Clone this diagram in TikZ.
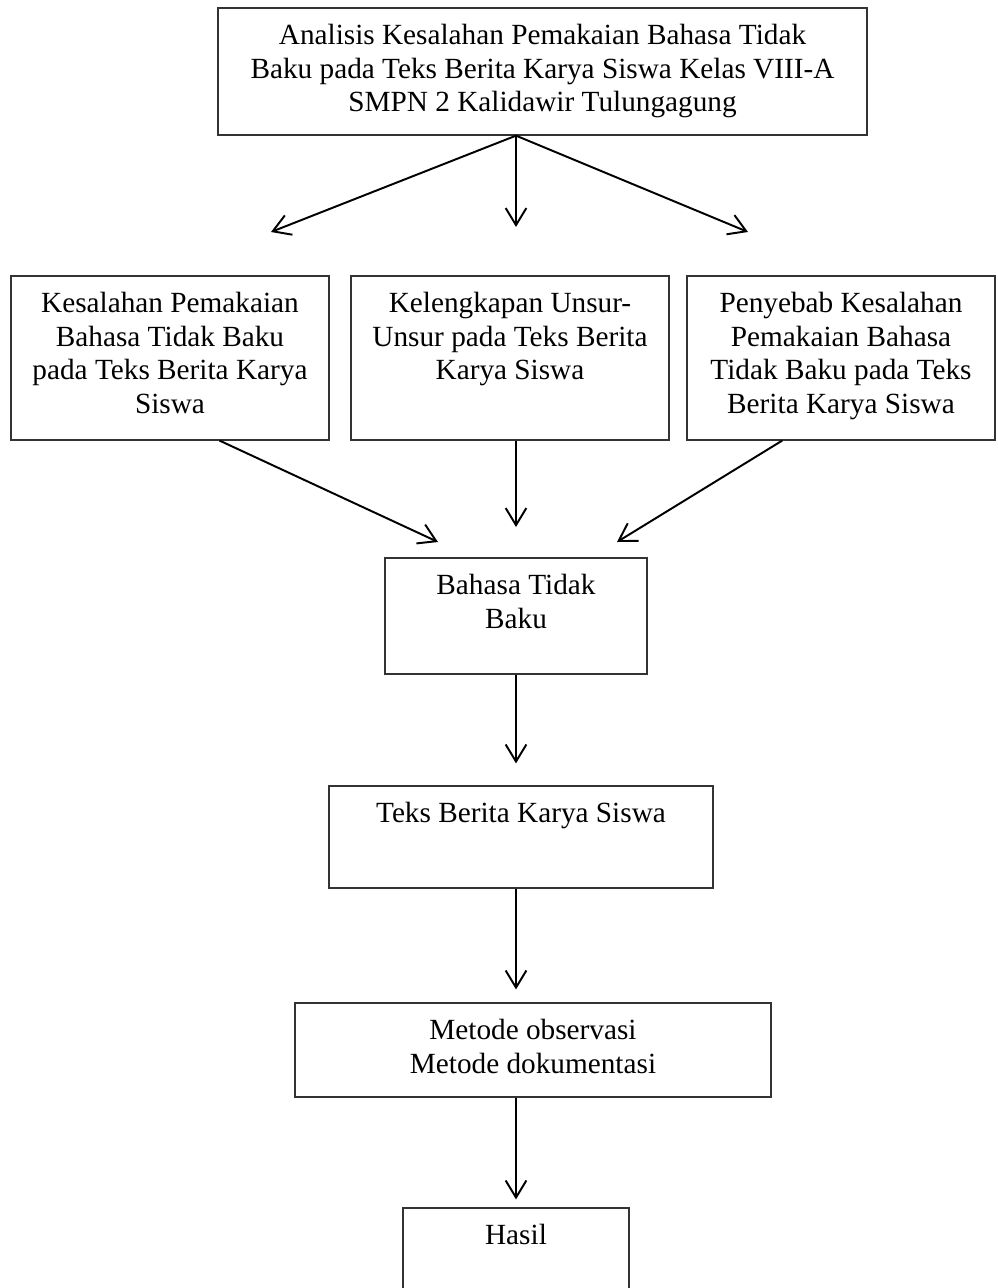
\documentclass[tikz,border=0pt]{standalone}
\usepackage{fontspec}
\setmainfont{Liberation Serif}
\usetikzlibrary{arrows.meta,calc}
\definecolor{figdark}{gray}{0.2}
% box text: width, height, lines (top aligned as in the source)
\newcommand{\boxtext}[3]{\parbox[c][#2][t]{#1}{\centering\rule{0pt}{15pt}#3}}
\tikzset{
  box/.style={
    rectangle, draw=figdark, line width=0.5pt, fill=white,
    inner sep=0pt, font=\fontsize{12}{13.8}\selectfont
  },
  arrow/.style={-{Straight Barb[length=7pt,width=8.5pt]}, line width=0.8pt, draw=black}
}

\begin{document}
\begin{tikzpicture}[x=0.41pt, y=-0.41pt]
  \useasboundingbox (0,0) rectangle (997,1288);

  \node[box] (analisis) at (542.5,71.5) {\boxtext{266.1pt}{52.1pt}{Analisis Kesalahan Pemakaian Bahasa Tidak\\ Baku pada Teks Berita Karya Siswa Kelas VIII-A\\ SMPN 2 Kalidawir Tulungagung}};

  \node[box] (kesalahan) at (170,358) {\boxtext{130.4pt}{67.2pt}{Kesalahan Pemakaian\\ Bahasa Tidak Baku\\ pada Teks Berita Karya\\ Siswa}};
  \node[box] (kelengkapan) at (510,358) {\boxtext{130.4pt}{67.2pt}{Kelengkapan Unsur-\\ Unsur pada Teks Berita\\ Karya Siswa}};
  \node[box] (penyebab) at (841,358) {\boxtext{126.3pt}{67.2pt}{Penyebab Kesalahan\\ Pemakaian Bahasa\\ Tidak Baku pada Teks\\ Berita Karya Siswa}};

  \node[box] (bahasa) at (516,616) {\boxtext{107.4pt}{47.6pt}{Bahasa Tidak\\ Baku}};
  \node[box] (teks) at (521,837) {\boxtext{157.4pt}{41.8pt}{Teks Berita Karya Siswa}};
  \node[box] (metode) at (533,1050) {\boxtext{195.2pt}{38.5pt}{Metode observasi\\ Metode dokumentasi}};
  \node[box] (hasil) at (516,1254) {\boxtext{92.7pt}{37.7pt}{Hasil}};

  % free ends of the branching arrows
  \coordinate (endL) at (271,232);
  \coordinate (endM) at (516,227);
  \coordinate (endR) at (748,232);
  \coordinate (inL) at (438,542);
  \coordinate (inM) at (516,527);
  \coordinate (inR) at (617,542);

  \draw[arrow] (analisis.south -| bahasa) -- (endL);
  \draw[arrow] (analisis.south -| bahasa) -- (endM);
  \draw[arrow] (analisis.south -| bahasa) -- (endR);

  \draw[arrow] ($(kesalahan.south west)!0.655!(kesalahan.south east)$) -- (inL);
  \draw[arrow] (kelengkapan.south -| bahasa) -- (inM);
  \draw[arrow] ($(penyebab.south west)!0.31!(penyebab.south east)$) -- (inR);

  \draw[arrow] (bahasa.south) -- ($(bahasa.south |- teks.north)+(0,-22)$);
  \draw[arrow] (teks.south -| hasil) -- ($(hasil |- metode.north)+(0,-13)$);
  \draw[arrow] (metode.south -| hasil) -- ($(hasil.north)+(0,-8)$);
\end{tikzpicture}
\end{document}
